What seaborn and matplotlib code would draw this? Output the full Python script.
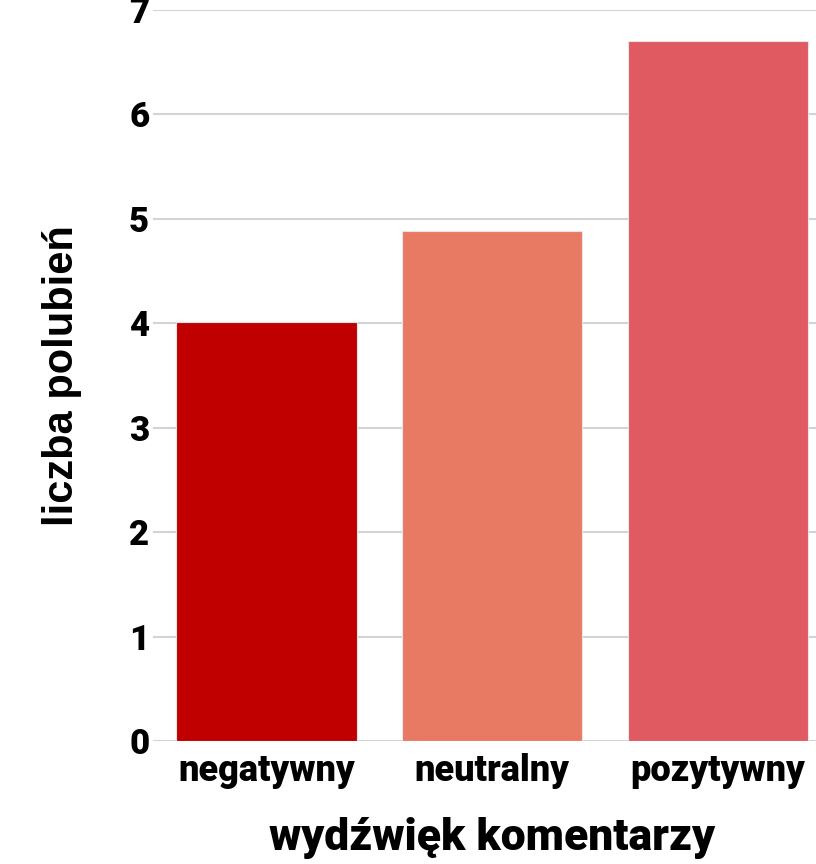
import matplotlib
matplotlib.use("Agg")
import matplotlib.pyplot as plt
import seaborn as sns
import pandas as pd
from matplotlib.font_manager import FontProperties

categories = ["negatywny", "neutralny", "pozytywny"]
likes = [4.01, 4.885, 6.70]
colors = ["#C00000", "#E87A63", "#E05A62"]
y_ticks = [0, 1, 2, 3, 4, 5, 6, 7]

sns.set_theme(style="white")
plt.rcParams["font.family"] = ["Roboto", "DejaVu Sans"]

df = pd.DataFrame({"sentiment": categories, "likes": likes})

fig = plt.figure(figsize=(8.16, 8.64), dpi=100)
ax = fig.add_axes([0.188, 0.1424, 0.830, 0.846])

sns.barplot(data=df, x="sentiment", y="likes", hue="sentiment",
            palette=colors, legend=False, width=0.8, saturation=1,
            edgecolor="#e6e6e6", linewidth=0.8, ax=ax, zorder=3)

ax.set_xlim(-0.5, 2.5)
ax.set_ylim(0, 7)
ax.set_yticks(y_ticks)
ax.yaxis.grid(True, color="#d3d3d3", linewidth=1.5, zorder=0)
ax.set_axisbelow(True)
for s in ax.spines.values():
    s.set_visible(False)
ax.tick_params(axis="both", length=0)
ax.tick_params(axis="y", pad=3)
ax.tick_params(axis="x", pad=9)
for lbl in ax.get_yticklabels():
    lbl.set_fontsize(25)
    lbl.set_fontweight("heavy")
    lbl.set_color("black")
for lbl in ax.get_xticklabels():
    lbl.set_fontsize(26)
    lbl.set_fontweight("heavy")
    lbl.set_color("black")

ax.set_xlabel("wydźwięk komentarzy", fontsize=32, fontweight="heavy",
              color="black", labelpad=20)
ylab_font = FontProperties(family=["Liberation Sans", "DejaVu Sans"], weight="bold", size=30)
ax.set_ylabel("liczba polubień", fontproperties=ylab_font, color="black", labelpad=34)

fig.savefig("out.png", dpi=100)
